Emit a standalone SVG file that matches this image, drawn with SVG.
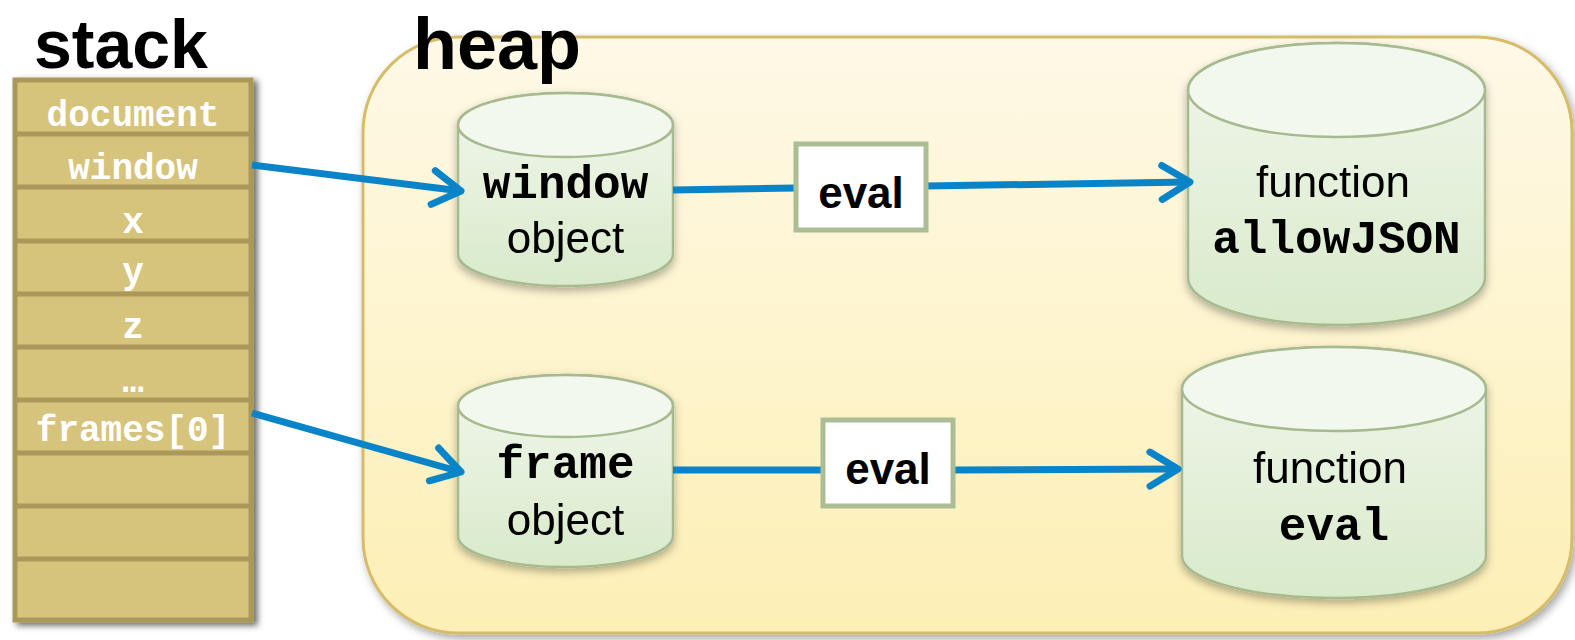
<svg xmlns="http://www.w3.org/2000/svg" width="1575" height="640" viewBox="0 0 1575 640">
<style>
.title{font-family:"Liberation Sans",Arial,sans-serif;font-weight:bold;fill:#000}
.stk{font-family:"Liberation Mono","Courier New",monospace;font-weight:bold;font-size:36px;fill:#fff;text-anchor:middle}
.mono{font-family:"Liberation Mono","Courier New",monospace;font-weight:bold;font-size:46px;fill:#000;text-anchor:middle}
.sans{font-family:"Liberation Sans",Arial,sans-serif;font-size:44px;fill:#000;text-anchor:middle}
.evl{font-family:"Liberation Sans",Arial,sans-serif;font-weight:bold;font-size:44px;fill:#000;text-anchor:middle}
.cylBody{fill:url(#cylGrad);stroke:#a6b98f;stroke-width:2.5}
.cylTop{fill:#f2f8ee;stroke:#a6b98f;stroke-width:2.5}
.row{fill:#d7c47c;stroke:#a99859;stroke-width:5}
.box{fill:#fff;stroke:#aabd94;stroke-width:5}
.conn{fill:none;stroke:#0a84c8;stroke-width:7}
</style>
<defs>
<linearGradient id="heapGrad" x1="0" y1="0" x2="0" y2="1">
<stop offset="0" stop-color="#fef9e7"/>
<stop offset="1" stop-color="#fdefb5"/>
</linearGradient>
<linearGradient id="cylGrad" x1="0" y1="0" x2="0" y2="1">
<stop offset="0" stop-color="#f1f7ec"/>
<stop offset="1" stop-color="#d9eacb"/>
</linearGradient>
<filter id="shStack" x="-10%" y="-10%" width="130%" height="130%">
<feDropShadow dx="4" dy="3" stdDeviation="3" flood-color="#000" flood-opacity="0.6"/>
</filter>
<filter id="shHeap" x="-10%" y="-10%" width="130%" height="130%">
<feDropShadow dx="3" dy="4" stdDeviation="4" flood-color="#000" flood-opacity="0.35"/>
</filter>
<filter id="shCyl" x="-20%" y="-20%" width="140%" height="140%">
<feDropShadow dx="0" dy="4" stdDeviation="4" flood-color="#000" flood-opacity="0.3"/>
</filter>
<marker id="arrow" markerUnits="userSpaceOnUse" viewBox="-40 -25 50 50" markerWidth="50" markerHeight="50" refX="0" refY="0" orient="auto" overflow="visible">
<path d="M-28,-17 L0,0 L-28,17" fill="none" stroke="#0a84c8" stroke-width="7" stroke-linecap="round" stroke-linejoin="round"/>
</marker>
</defs>

<g id="heap">
<rect x="363" y="37" width="1209" height="596" rx="95" ry="95" fill="url(#heapGrad)" stroke="#d6bb68" stroke-width="3" filter="url(#shHeap)"/>
<text class="title" x="413" y="69" font-size="72">heap</text>
</g>

<g id="stack">
<text class="title" x="34" y="68" font-size="68">stack</text>
<g filter="url(#shStack)">
<rect class="row" x="15" y="80" width="236" height="540"/>
</g>
<g stroke="#a99859" stroke-width="5">
<line x1="15" y1="134" x2="251" y2="134"/>
<line x1="15" y1="187" x2="251" y2="187"/>
<line x1="15" y1="241" x2="251" y2="241"/>
<line x1="15" y1="294" x2="251" y2="294"/>
<line x1="15" y1="347" x2="251" y2="347"/>
<line x1="15" y1="400" x2="251" y2="400"/>
<line x1="15" y1="453" x2="251" y2="453"/>
<line x1="15" y1="506" x2="251" y2="506"/>
<line x1="15" y1="559" x2="251" y2="559"/>
</g>
<text class="stk" x="133" y="126">document</text>
<text class="stk" x="133" y="179">window</text>
<text class="stk" x="133" y="233">x</text>
<text class="stk" x="133" y="283">y</text>
<text class="stk" x="133" y="338">z</text>
<text class="stk" x="133" y="392">…</text>
<text class="stk" x="133" y="441">frames[0]</text>
</g>

<g id="window-object" filter="url(#shCyl)">
<path class="cylBody" d="M458,125 V254 A107.5,32 0 0 0 673,254 V125 A107.5,32 0 0 0 458,125 Z"/>
<ellipse class="cylTop" cx="565.5" cy="125" rx="107.5" ry="32"/>
<text class="mono" x="565.5" y="198">window</text>
<text class="sans" x="565.5" y="253">object</text>
</g>

<g id="frame-object" filter="url(#shCyl)">
<path class="cylBody" d="M458,406 V536 A107.5,31 0 0 0 673,536 V406 A107.5,31 0 0 0 458,406 Z"/>
<ellipse class="cylTop" cx="565.5" cy="406" rx="107.5" ry="31"/>
<text class="mono" x="565.5" y="478">frame</text>
<text class="sans" x="565.5" y="535">object</text>
</g>

<g id="function-allowJSON" filter="url(#shCyl)">
<path class="cylBody" d="M1188,90 V278 A148.5,47 0 0 0 1485,278 V90 A148.5,47 0 0 0 1188,90 Z"/>
<ellipse class="cylTop" cx="1336.5" cy="90" rx="148.5" ry="47"/>
<text class="sans" x="1333" y="197">function</text>
<text class="mono" x="1336.5" y="253">allowJSON</text>
</g>

<g id="function-eval" filter="url(#shCyl)">
<path class="cylBody" d="M1182,389 V556 A152,42 0 0 0 1486,556 V389 A152,42 0 0 0 1182,389 Z"/>
<ellipse class="cylTop" cx="1334" cy="389" rx="152" ry="42"/>
<text class="sans" x="1330" y="483">function</text>
<text class="mono" x="1334" y="540">eval</text>
</g>

<g id="connectors">
<line class="conn" x1="252" y1="165" x2="461" y2="191" marker-end="url(#arrow)"/>
<line class="conn" x1="252" y1="413" x2="461" y2="472" marker-end="url(#arrow)"/>
<line class="conn" x1="673" y1="190" x2="796" y2="188"/>
<line class="conn" x1="926" y1="186" x2="1190" y2="182" marker-end="url(#arrow)"/>
<line class="conn" x1="673" y1="470" x2="823" y2="470"/>
<line class="conn" x1="953" y1="470" x2="1178" y2="469" marker-end="url(#arrow)"/>
</g>

<g id="eval-box-1">
<rect class="box" x="796" y="144" width="130" height="86"/>
<text class="evl" x="861" y="208">eval</text>
</g>

<g id="eval-box-2">
<rect class="box" x="823" y="420" width="130" height="86"/>
<text class="evl" x="888" y="484">eval</text>
</g>
</svg>
